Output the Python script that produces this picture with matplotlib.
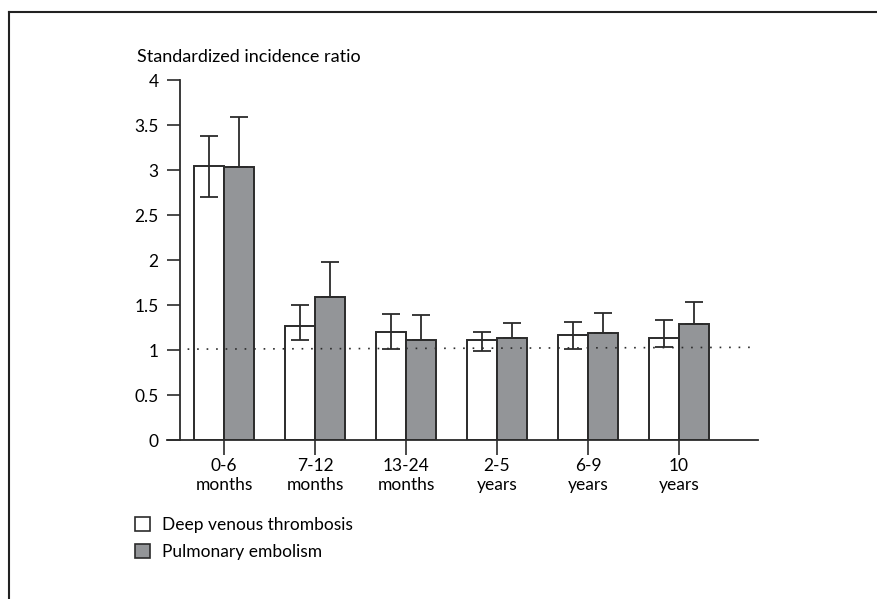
import numpy as np
import matplotlib.pyplot as plt
from matplotlib.lines import Line2D
from matplotlib.patches import Patch

plt.rcParams['font.family'] = ['Lato', 'DejaVu Sans']
plt.rcParams['font.size'] = 12.5

categories = ["0-6\nmonths", "7-12\nmonths", "13-24\nmonths", "2-5\nyears", "6-9\nyears", "10\nyears"]
dvt = [3.04, 1.27, 1.20, 1.11, 1.17, 1.13]
dvt_lo = [2.70, 1.11, 1.01, 0.99, 1.01, 1.03]
dvt_hi = [3.38, 1.50, 1.40, 1.20, 1.31, 1.33]
pe = [3.03, 1.59, 1.11, 1.13, 1.19, 1.29]
pe_hi = [3.59, 1.98, 1.39, 1.30, 1.41, 1.53]
yticks = [0, 0.5, 1, 1.5, 2, 2.5, 3, 3.5, 4]
ytick_labels = ["0", "0.5", "1", "1.5", "2", "2.5", "3", "3.5", "4"]

edge = "#2b2b2b"
grey = "#939598"

fig = plt.figure(figsize=(8.77, 5.99), dpi=100)
ax = fig.add_axes([0.2052, 0.2654, 0.6588, 0.601])

x = np.arange(len(categories))
w = 0.335
dvt = np.array(dvt); pe = np.array(pe)
ax.bar(x - w/2, dvt, w, color="white", edgecolor=edge, linewidth=1.4, zorder=2)
ax.bar(x + w/2, pe, w, color=grey, edgecolor=edge, linewidth=1.4, zorder=2)

# error bars (PE only drawn upward)
ax.errorbar(x - w/2, dvt, yerr=[dvt - np.array(dvt_lo), np.array(dvt_hi) - dvt],
            fmt="none", ecolor=edge, elinewidth=1.3, capsize=6.8, capthick=1.3, zorder=3)
ax.errorbar(x + w/2, pe, yerr=[np.zeros(len(pe)), np.array(pe_hi) - pe],
            fmt="none", ecolor=edge, elinewidth=1.3, capsize=6.8, capthick=1.3, zorder=3)

# reference line at SIR = 1
ax.plot([-0.4, 5.83], [1.01, 1.03], linestyle=(0, (1, 4.7)), color=edge, linewidth=1.2, zorder=4)

ax.set_xlim(-0.484, 5.865)
ax.set_ylim(0, 4)
ax.set_yticks(yticks)
ax.set_yticklabels(ytick_labels)
ax.set_xticks(x)
ax.set_xticklabels(categories, linespacing=1.25)
ax.tick_params(axis="y", length=9.5, width=1.2, color=edge, pad=6)
ax.tick_params(axis="x", length=11, width=1.2, color=edge, pad=2)

for s in ["top", "right"]:
    ax.spines[s].set_visible(False)
ax.spines["left"].set_linewidth(1.3)
ax.spines["left"].set_color(edge)
ax.spines["bottom"].set_linewidth(1.3)
ax.spines["bottom"].set_color(edge)
ax.spines["bottom"].set_bounds(-0.626, 5.865)

fig.text(137/877, 1 - 57/599, "Standardized incidence ratio", ha="left", va="center", fontsize=13)

handles = [Patch(facecolor="white", edgecolor=edge, linewidth=1.2),
           Patch(facecolor=grey, edgecolor=edge, linewidth=1.2)]
fig.legend(handles, ["Deep venous thrombosis", "Pulmonary embolism"], loc="upper left",
           bbox_to_anchor=(128/877, 1 - 510/599), frameon=False, handlelength=0.85,
           handleheight=0.85, handletextpad=0.7, labelspacing=0.62, fontsize=12.5,
           borderaxespad=0)

# outer frame
fig.add_artist(Line2D([9/877, 1], [1 - 12/599, 1 - 12/599], transform=fig.transFigure, color="#222222", linewidth=1.5))
fig.add_artist(Line2D([9/877, 9/877], [0, 1 - 12/599], transform=fig.transFigure, color="#222222", linewidth=1.5))

fig.savefig("out.png", dpi=100)
